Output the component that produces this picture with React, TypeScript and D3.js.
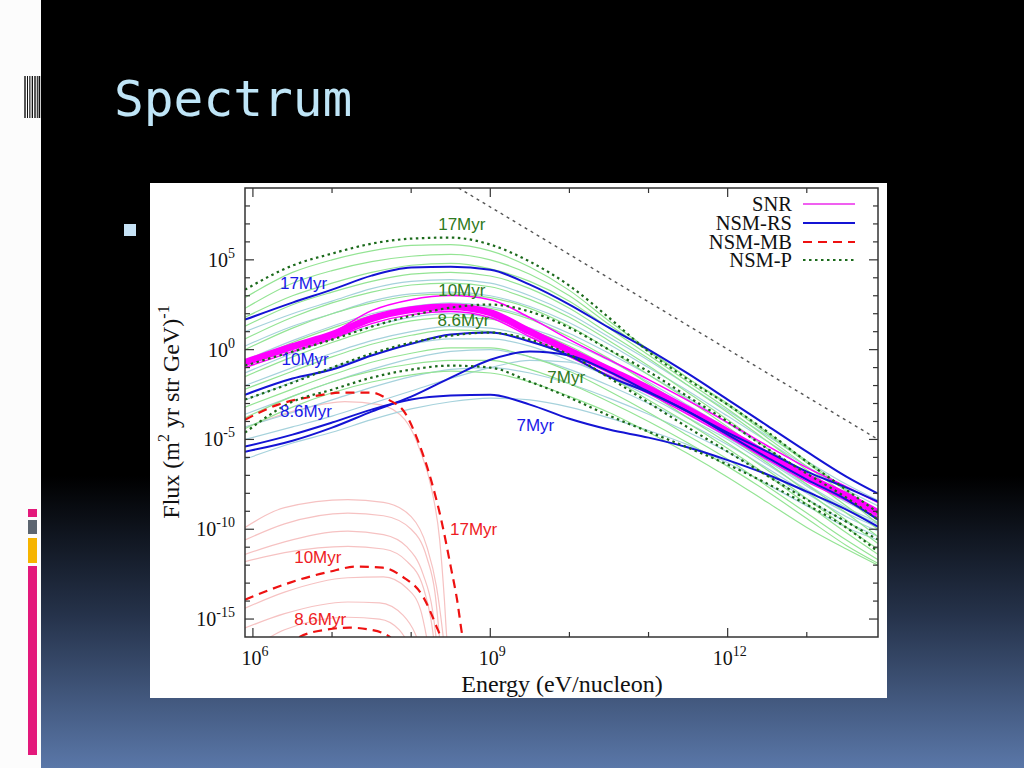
import React from "react";
import * as d3 from "d3";

// ---------- data (log10 values) ----------
const energyLog = [5.9, 6.5, 7.0, 7.5, 8.0, 8.5, 9.0, 9.5, 10.0, 10.5, 11.0, 11.5, 12.0, 12.5, 13.0, 13.5, 13.9];

// NSM-P (dotted, dark green)
const nsmP17 = [3.34, 4.68, 5.35, 5.9, 6.18, 6.24, 5.85, 4.9, 3.56, 1.78, -0.11, -1.67, -3.06, -4.57, -6.24, -7.8, -9.08];
const nsmP10 = [-0.89, -0.11, 0.56, 1.28, 1.89, 2.34, 2.51, 2.12, 1.22, 0.0, -1.22, -2.62, -4.01, -5.51, -6.9, -8.24, -9.47];
const nsmP86 = [-2.78, -1.84, -1.0, -0.22, 0.39, 0.78, 0.95, 0.56, -0.28, -1.56, -2.95, -4.34, -5.68, -7.02, -8.35, -9.58, -10.58];
const nsmP7 = [-4.62, -2.9, -2.23, -1.56, -1.11, -0.89, -1.0, -1.78, -2.67, -3.67, -4.57, -5.46, -6.4, -7.46, -8.63, -9.91, -11.25];

// NSM-RS (solid, blue)
const nsmRS17 = [1.67, 2.62, 3.34, 4.12, 4.57, 4.62, 4.45, 3.62, 2.51, 1.22, 0.0, -1.34, -2.78, -4.23, -5.68, -7.07, -8.02];
const nsmRS10 = [-2.51, -1.61, -1.11, -0.33, 0.33, 0.84, 0.95, 0.45, -0.33, -1.5, -2.39, -3.45, -4.73, -6.01, -7.24, -8.35, -9.47];
const nsmRS86 = [-5.68, -5.07, -4.34, -3.45, -2.62, -1.56, -0.56, -0.11, -0.33, -1.22, -2.34, -3.45, -4.62, -5.68, -6.79, -7.68, -8.46];
const nsmRS7 = [-5.4, -4.73, -4.06, -3.34, -2.78, -2.56, -2.51, -3.06, -3.85, -4.45, -4.9, -5.45, -6.15, -6.95, -7.91, -8.91, -9.86];

// SNR (magenta band)
const snrMain = [-0.72, 0.17, 0.84, 1.73, 2.23, 2.39, 2.06, 1.0, -0.06, -1.11, -2.17, -3.34, -4.57, -5.85, -7.07, -8.13, -9.08];
const snrUpper = [-0.62, 0.25, 0.95, 2.17, 2.78, 3.01, 2.78, 1.78, 0.56, -0.56, -1.67, -2.84, -4.06, -5.35, -6.57, -7.63, -8.52];
const snrLower = [-1.0, -0.11, 0.61, 1.45, 1.95, 2.12, 1.78, 0.72, -0.39, -1.45, -2.45, -3.62, -4.84, -6.12, -7.35, -8.41, -9.35];

// other NSM-P runs (light green)
const nsmPOthers = [
  [2.9, 4.3, 5.0, 5.5, 5.8, 5.85, 5.5, 4.6, 3.3, 1.6, 0.0, -1.6, -3.0, -4.6, -6.2, -7.8, -9.2],
  [2.3, 3.7, 4.4, 4.9, 5.2, 5.3, 5.0, 4.2, 3.0, 1.4, -0.1, -1.6, -3.1, -4.7, -6.3, -7.9, -9.3],
  [1.8, 3.0, 3.7, 4.3, 4.7, 4.8, 4.5, 3.8, 2.7, 1.2, -0.3, -1.8, -3.3, -4.9, -6.5, -8.1, -9.5],
  [1.3, 2.5, 3.2, 3.8, 4.2, 4.3, 4.1, 3.4, 2.3, 0.9, -0.5, -2.0, -3.5, -5.1, -6.7, -8.3, -9.7],
  [0.6, 1.8, 2.6, 3.2, 3.6, 3.7, 3.5, 2.8, 1.8, 0.5, -0.9, -2.4, -3.9, -5.5, -7.1, -8.7, -10.0],
  [0.0, 1.2, 2.0, 2.6, 3.0, 3.1, 2.9, 2.3, 1.3, 0.0, -1.4, -2.8, -4.3, -5.9, -7.5, -9.1, -10.4],
  [-0.8, 0.4, 1.2, 1.9, 2.3, 2.5, 2.3, 1.7, 0.7, -0.5, -1.9, -3.3, -4.8, -6.3, -7.9, -9.5, -10.8],
  [-1.5, -0.4, 0.4, 1.1, 1.6, 1.8, 1.7, 1.1, 0.2, -1.0, -2.4, -3.8, -5.2, -6.7, -8.3, -9.9, -11.1],
  [-2.2, -1.2, -0.4, 0.3, 0.8, 1.1, 1.0, 0.5, -0.4, -1.5, -2.8, -4.1, -5.5, -7.0, -8.6, -10.2, -11.4],
  [-3.2, -2.2, -1.4, -0.7, -0.2, 0.1, 0.1, -0.4, -1.2, -2.3, -3.5, -4.8, -6.1, -7.6, -9.1, -10.6, -11.7],
  [-3.8, -2.6, -1.8, -1.2, -0.8, -0.6, -0.6, -1.1, -1.9, -2.9, -4.0, -5.2, -6.5, -7.9, -9.4, -10.9, -11.9],
  [-4.4, -3.2, -2.4, -1.8, -1.4, -1.2, -1.3, -1.8, -2.6, -3.5, -4.6, -5.8, -7.1, -8.5, -9.9, -11.1, -12.0],
];

// other NSM-RS runs (light blue)
const nsmRSOthers = [
  [1.0, 2.0, 2.7, 3.4, 3.8, 3.9, 3.7, 3.0, 2.0, 0.7, -0.6, -2.0, -3.4, -4.8, -6.2, -7.5, -8.4],
  [0.2, 1.3, 2.0, 2.7, 3.1, 3.2, 3.0, 2.4, 1.5, 0.3, -1.0, -2.3, -3.7, -5.1, -6.5, -7.8, -8.7],
  [-0.6, 0.5, 1.3, 2.0, 2.4, 2.6, 2.4, 1.8, 0.9, -0.2, -1.4, -2.7, -4.1, -5.5, -6.9, -8.2, -9.0],
  [-1.3, -0.2, 0.6, 1.3, 1.8, 2.0, 1.8, 1.2, 0.4, -0.6, -1.8, -3.1, -4.4, -5.8, -7.2, -8.5, -9.3],
  [-2.0, -1.0, -0.2, 0.5, 1.0, 1.3, 1.2, 0.7, -0.1, -1.0, -2.2, -3.4, -4.7, -6.1, -7.5, -8.8, -9.6],
  [-2.8, -1.8, -1.0, -0.3, 0.3, 0.6, 0.6, 0.2, -0.6, -1.5, -2.6, -3.8, -5.0, -6.4, -7.8, -9.1, -9.9],
  [-3.6, -2.6, -1.8, -1.1, -0.5, -0.1, 0.0, -0.4, -1.1, -2.0, -3.0, -4.1, -5.3, -6.6, -8.0, -9.3, -10.1],
  [-4.3, -3.5, -2.8, -2.1, -1.5, -1.1, -1.0, -1.3, -1.9, -2.7, -3.6, -4.6, -5.7, -7.0, -8.3, -9.6, -10.4],
  [-6.1, -5.2, -4.6, -3.9, -3.3, -2.9, -2.7, -2.8, -3.2, -3.8, -4.5, -5.3, -6.3, -7.5, -8.7, -9.9, -10.6],
  [-5.0, -4.3, -3.7, -3.0, -2.3, -1.6, -1.0, -0.6, -0.7, -1.4, -2.4, -3.6, -4.9, -6.2, -7.6, -8.9, -9.7],
];

// NSM-MB (dashed, red) as [log10 E, log10 flux]
const nsmMB17 = [[5.9, -3.9], [6.32, -3.06], [6.74, -2.62], [7.16, -2.39], [7.5, -2.39], [7.71, -2.78], [7.92, -3.51], [8.08, -5.01], [8.25, -7.24], [8.38, -9.47], [8.5, -12.08], [8.58, -13.92], [8.65, -16.0], [8.68, -16.6]];
const nsmMB10 = [[5.9, -13.92], [6.47, -12.97], [6.97, -12.36], [7.31, -12.08], [7.64, -12.14], [7.89, -12.64], [8.15, -13.75], [8.32, -15.42], [8.37, -16.0], [8.4, -16.6]];
const nsmMB86 = [[6.45, -16.6], [6.59, -16.0], [6.93, -15.59], [7.22, -15.48], [7.48, -15.59], [7.73, -16.0], [7.82, -16.6]];

// other NSM-MB runs (light pink)
const nsmMBOthers = [
  [[5.9, -4.34], [6.59, -3.34], [7.16, -2.9], [7.6, -3.06], [7.92, -3.9], [8.11, -5.57], [8.26, -7.8], [8.36, -10.58], [8.42, -13.92], [8.45, -16.0], [8.47, -16.6]],
  [[5.9, -9.9], [6.4, -8.8], [7.2, -8.35], [7.65, -8.5], [8.0, -9.3], [8.2, -11.0], [8.32, -13.2], [8.4, -15.8], [8.42, -16.6]],
  [[5.9, -10.6], [6.4, -9.7], [7.2, -9.1], [7.65, -9.25], [8.0, -10.0], [8.2, -11.6], [8.3, -13.5], [8.37, -16.6]],
  [[5.9, -11.4], [6.4, -10.7], [7.2, -10.1], [7.65, -10.3], [7.95, -11.0], [8.15, -12.5], [8.27, -14.5], [8.33, -16.6]],
  [[5.9, -11.8], [6.4, -11.3], [7.2, -10.95], [7.65, -11.1], [7.95, -11.8], [8.15, -13.2], [8.25, -15.0], [8.3, -16.6]],
  [[5.9, -14.4], [6.4, -13.5], [7.2, -12.7], [7.65, -12.65], [7.95, -13.3], [8.12, -14.5], [8.22, -16.6]],
  [[5.9, -15.5], [6.4, -14.7], [7.2, -14.05], [7.6, -14.1], [7.9, -14.8], [8.05, -15.8], [8.12, -16.6]],
  [[6.0, -16.6], [6.4, -15.6], [7.2, -14.9], [7.6, -15.0], [7.85, -15.6], [8.0, -16.6]],
];

// reference power law (grey dotted)
const referenceLine = [[8.6, 9.0], [13.9, -5.0]];

// axes
const xDomainLog = [5.9, 13.9];
const yDomainLog = [-16, 9];
const xTickExps = [6, 7, 8, 9, 10, 11, 12, 13];
const xLabelExps = [6, 9, 12];
const yTickExps = [-15, -14, -13, -12, -11, -10, -9, -8, -7, -6, -5, -4, -3, -2, -1, 0, 1, 2, 3, 4, 5, 6, 7, 8];
const yLabelExps = [5, 0, -5, -10, -15];

const legendNames = ["SNR", "NSM-RS", "NSM-MB", "NSM-P"];

const curveLabels = [
  { text: "17Myr", kind: "P", e: 8.64, f: 7.02 },
  { text: "17Myr", kind: "RS", e: 6.64, f: 3.73 },
  { text: "10Myr", kind: "P", e: 8.64, f: 3.34 },
  { text: "8.6Myr", kind: "P", e: 8.66, f: 1.67 },
  { text: "10Myr", kind: "RS", e: 6.66, f: -0.5 },
  { text: "7Myr", kind: "P", e: 9.96, f: -1.5 },
  { text: "8.6Myr", kind: "RS", e: 6.67, f: -3.4 },
  { text: "7Myr", kind: "RS", e: 9.57, f: -4.18 },
  { text: "17Myr", kind: "MB", e: 8.79, f: -9.97 },
  { text: "10Myr", kind: "MB", e: 6.82, f: -11.53 },
  { text: "8.6Myr", kind: "MB", e: 6.85, f: -14.98 },
];

// ---------- styling ----------
const COL = {
  snr: "#ff00ff",
  snrLegend: "#f060f0",
  rs: "#1414d4",
  mb: "#ee1111",
  p: "#1b6a1b",
  pBg: "#94e494",
  rsBg: "#a6d2dc",
  mbBg: "#f6c2c2",
  ref: "#555555",
  labelP: "#2f7a22",
  labelRS: "#1a1ae8",
  labelMB: "#ee1c24",
};

const serif = "'Liberation Serif', 'Times New Roman', serif";
const sans = "'Liberation Sans', Arial, sans-serif";

export default function App() {
  const W = 1024;
  const H = 768;
  const plot = { left: 245, right: 878, top: 188, bottom: 637 };

  const p10 = (v: number) => Math.pow(10, v);
  const x = d3.scaleLog().domain([p10(xDomainLog[0]), p10(xDomainLog[1])]).range([plot.left, plot.right]);
  const y = d3.scaleLog().domain([p10(yDomainLog[0]), p10(yDomainLog[1])]).range([plot.bottom, plot.top]);

  const gridLine = d3
    .line<number>()
    .x((_, i) => x(p10(energyLog[i])))
    .y((v) => y(p10(v)))
    .curve(d3.curveMonotoneX);
  const pairLine = d3
    .line<number[]>()
    .x((d) => x(p10(d[0])))
    .y((d) => y(p10(d[1])))
    .curve(d3.curveMonotoneX);
  const straight = d3
    .line<number[]>()
    .x((d) => x(p10(d[0])))
    .y((d) => y(p10(d[1])));

  const labelColor = (k: string) => (k === "P" ? COL.labelP : k === "RS" ? COL.labelRS : COL.labelMB);

  const legendRowY = [204, 223, 242, 260];
  const legendStyles = [
    { stroke: COL.snrLegend, dash: undefined as string | undefined, width: 2 },
    { stroke: COL.rs, dash: undefined, width: 2 },
    { stroke: COL.mb, dash: "9,6", width: 2.2 },
    { stroke: COL.p, dash: "2.5,3.5", width: 2.2 },
  ];

  return (
    <svg
      width={W}
      height={H}
      viewBox={`0 0 ${W} ${H}`}
      style={{ position: "absolute", left: 0, top: 0, display: "block" }}
    >
      <defs>
        <linearGradient id="bg" x1="0" y1="0" x2="0" y2="1">
          <stop offset="0" stopColor="#000000" />
          <stop offset="0.62" stopColor="#000000" />
          <stop offset="0.8" stopColor="#25324a" />
          <stop offset="1" stopColor="#5a77a8" />
        </linearGradient>
        <clipPath id="plotClip">
          <rect x={plot.left} y={plot.top} width={plot.right - plot.left} height={plot.bottom - plot.top} />
        </clipPath>
      </defs>

      {/* slide background */}
      <rect x={0} y={0} width={W} height={H} fill="url(#bg)" />
      <rect x={0} y={0} width={41} height={H} fill="#fcfcfc" />
      {[
        [24.3, 1.4],
        [27.0, 1.0],
        [29.3, 1.1],
        [31.7, 1.3],
        [34.3, 1.4],
        [36.8, 1.0],
        [38.6, 1.6],
      ].map(([bx, bw], i) => (
        <rect key={"bc" + i} x={bx} y={76} width={bw} height={42} fill="#111" />
      ))}
      <rect x={28} y={509} width={9} height={8} fill="#e3197b" />
      <rect x={28} y={520} width={9} height={14} fill="#5c6570" />
      <rect x={28} y={538} width={9} height={25} fill="#f6b400" />
      <rect x={28} y={566} width={9} height={189} fill="#e3197b" />

      <text x={114} y={116} fontFamily="'DejaVu Sans Mono', monospace" fontSize={49.5} fill="#bfe5f7">
        Spectrum
      </text>
      <rect x={124} y={224} width={12} height={12} fill="#c6e2f5" />

      {/* figure panel */}
      <rect x={150} y={183} width={737} height={515} fill="#ffffff" />

      <g clipPath="url(#plotClip)" fill="none" strokeLinejoin="round">
        {/* background runs */}
        {nsmMBOthers.map((d, i) => (
          <path key={"mb" + i} d={pairLine(d) || ""} stroke={COL.mbBg} strokeWidth={1.2} />
        ))}
        {nsmRSOthers.map((d, i) => (
          <path key={"rs" + i} d={gridLine(d) || ""} stroke={COL.rsBg} strokeWidth={1.2} />
        ))}
        {nsmPOthers.map((d, i) => (
          <path key={"p" + i} d={gridLine(d) || ""} stroke={COL.pBg} strokeWidth={1.2} />
        ))}

        {/* reference line */}
        <path d={straight(referenceLine) || ""} stroke={COL.ref} strokeWidth={1.4} strokeDasharray="3,4" />

        {/* SNR */}
        <path d={gridLine(snrMain) || ""} stroke={COL.snr} strokeWidth={7} />
        <path d={gridLine(snrUpper) || ""} stroke={COL.snr} strokeWidth={1.5} />
        <path d={gridLine(snrLower) || ""} stroke={COL.snr} strokeWidth={1.5} />

        {/* NSM-RS */}
        {[nsmRS17, nsmRS10, nsmRS86, nsmRS7].map((d, i) => (
          <path key={"RS" + i} d={gridLine(d) || ""} stroke={COL.rs} strokeWidth={2} />
        ))}
        {/* NSM-MB */}
        {[nsmMB17, nsmMB10, nsmMB86].map((d, i) => (
          <path key={"MB" + i} d={pairLine(d) || ""} stroke={COL.mb} strokeWidth={2.2} strokeDasharray="9,6" />
        ))}
        {/* NSM-P */}
        {[nsmP17, nsmP10, nsmP86, nsmP7].map((d, i) => (
          <path key={"P" + i} d={gridLine(d) || ""} stroke={COL.p} strokeWidth={2.2} strokeDasharray="2.5,3.5" />
        ))}
      </g>

      {/* curve labels */}
      {curveLabels.map((l, i) => (
        <text
          key={"lab" + i}
          x={x(p10(l.e))}
          y={y(p10(l.f))}
          dy="0.35em"
          textAnchor="middle"
          fontFamily={sans}
          fontSize={17}
          fill={labelColor(l.kind)}
        >
          {l.text}
        </text>
      ))}

      {/* frame and ticks */}
      <rect
        x={plot.left}
        y={plot.top}
        width={plot.right - plot.left}
        height={plot.bottom - plot.top}
        fill="none"
        stroke="#333"
        strokeWidth={1.5}
      />
      <g stroke="#333" strokeWidth={1.2}>
        {xTickExps.map((e) => {
          const len = xLabelExps.includes(e) ? 9 : 5;
          const xx = x(p10(e));
          return (
            <g key={"xt" + e}>
              <line x1={xx} x2={xx} y1={plot.bottom} y2={plot.bottom - len} />
              <line x1={xx} x2={xx} y1={plot.top} y2={plot.top + len} />
            </g>
          );
        })}
        {yTickExps.map((e) => {
          const len = yLabelExps.includes(e) ? 9 : 5;
          const yy = y(p10(e));
          return (
            <g key={"yt" + e}>
              <line x1={plot.left} x2={plot.left + len} y1={yy} y2={yy} />
              <line x1={plot.right} x2={plot.right - len} y1={yy} y2={yy} />
            </g>
          );
        })}
      </g>

      {/* tick labels */}
      {xLabelExps.map((e) => (
        <text
          key={"xl" + e}
          x={x(p10(e)) + 2}
          y={665}
          textAnchor="middle"
          fontFamily={serif}
          fontSize={20}
          fill="#111"
        >
          10
          <tspan dy={-9} fontSize={14}>
            {e}
          </tspan>
        </text>
      ))}
      {yLabelExps.map((e) => (
        <text
          key={"yl" + e}
          x={235}
          y={y(p10(e)) + 7}
          textAnchor="end"
          fontFamily={serif}
          fontSize={20}
          fill="#111"
        >
          10
          <tspan dy={-9} fontSize={14}>
            {e}
          </tspan>
        </text>
      ))}

      {/* axis titles */}
      <text x={562} y={692} textAnchor="middle" fontFamily={serif} fontSize={24} fill="#111">
        Energy (eV/nucleon)
      </text>
      <text
        transform="translate(179,412) rotate(-90)"
        textAnchor="middle"
        fontFamily={serif}
        fontSize={24}
        fill="#111"
      >
        Flux (m
        <tspan dy={-10} fontSize={16}>
          2
        </tspan>
        <tspan dy={10}> yr str GeV)</tspan>
        <tspan dy={-10} fontSize={16}>
          -1
        </tspan>
      </text>

      {/* legend */}
      {legendNames.map((name, i) => (
        <g key={"lg" + name}>
          <text
            x={792}
            y={legendRowY[i] + 7}
            textAnchor="end"
            fontFamily={serif}
            fontSize={20.5}
            fill="#111"
          >
            {name}
          </text>
          <line
            x1={803}
            x2={855}
            y1={legendRowY[i]}
            y2={legendRowY[i]}
            stroke={legendStyles[i].stroke}
            strokeWidth={legendStyles[i].width}
            strokeDasharray={legendStyles[i].dash}
          />
        </g>
      ))}
    </svg>
  );
}
